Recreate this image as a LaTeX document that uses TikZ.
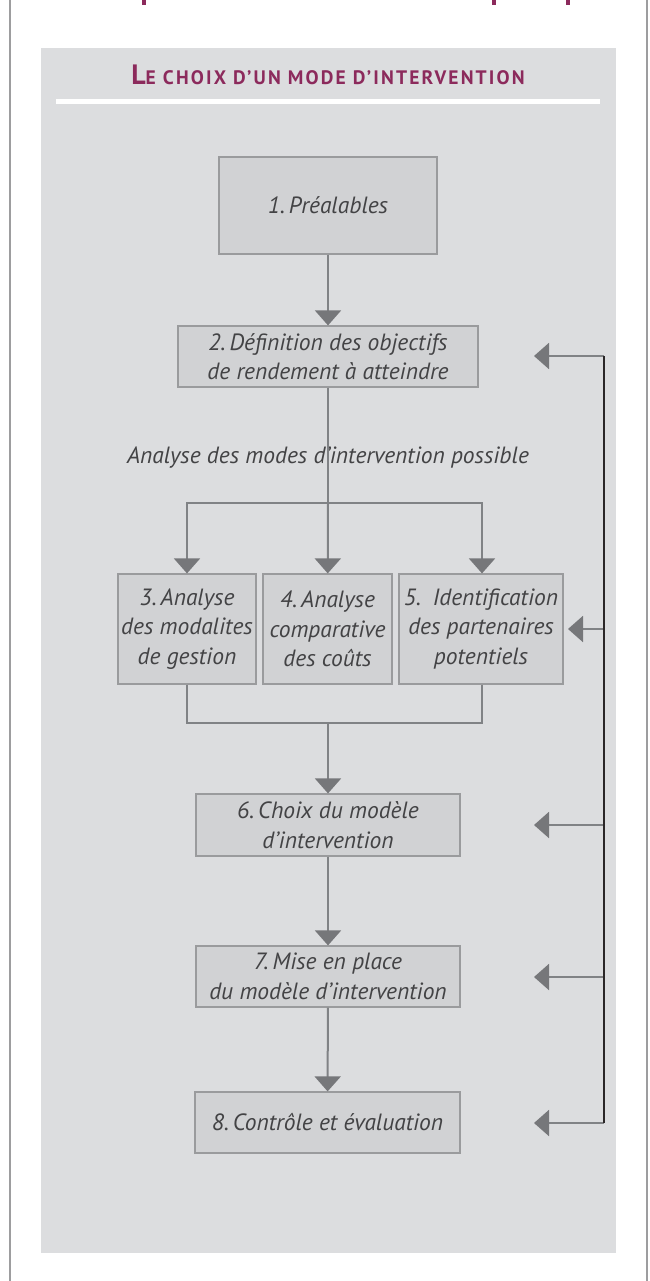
\documentclass[tikz,border=0pt]{standalone}
\usepackage{fontspec}
\setmainfont{PT Sans}
\usetikzlibrary{arrows.meta}
\definecolor{panelfill}{HTML}{DCDDDF}
\definecolor{boxfill}{HTML}{D1D2D4}
\definecolor{boxline}{HTML}{9A9B9D}
\definecolor{conn}{HTML}{808285}
\definecolor{tipc}{HTML}{76777A}
\definecolor{txt}{HTML}{434345}
\definecolor{fbline}{HTML}{2B2728}
\definecolor{titlec}{RGB}{140,42,92}
\definecolor{frame}{HTML}{9D9D9F}
\tikzset{
  stepbox/.style={draw=boxline, fill=boxfill, line width=1.2pt, inner sep=0pt,
    align=center, text=txt, font=\fontsize{23.5}{29.5}\selectfont\itshape},
  link/.style={draw=conn, line width=2pt},
  arr/.style={link, -{Triangle[length=15pt,width=26pt,fill=tipc,color=tipc]}},
  fb/.style={draw=fbline, line width=1.5pt},
}
\begin{document}
\begin{tikzpicture}[x=1pt,y=-1pt]
\useasboundingbox (0,0) rectangle (649,1281);
% outer frame lines
\draw[frame, line width=2pt] (10,0) -- (10,1281);
\draw[frame, line width=2pt] (647,0) -- (647,1281);
% cut-off heading fragments
\fill[titlec] (142,0) rectangle (146,5);
\fill[titlec] (492,0) rectangle (496,5);
\fill[titlec] (566,0) rectangle (570,5);
% panel
\fill[panelfill] (41,48) rectangle (616,1253);
% title
\node[anchor=base, text=titlec, inner sep=0pt] (title) at (328,85)
  {\bfseries\addfontfeature{LetterSpace=11}{\fontsize{28}{28}\selectfont L}{\fontsize{19.5}{19.5}\selectfont E CHOIX D’UN MODE D’INTERVENTION}};
\fill[white] (56,99) rectangle (600,104);

% boxes
\node[stepbox, minimum width=218pt, minimum height=97pt] (b1) at (328,205.5) {1.\,Préalables};
\node[stepbox, minimum width=300pt, minimum height=61pt] (b2) at (328,356.5) {2.\,Définition des objectifs\\de rendement à atteindre};
\node[stepbox, minimum width=138pt, minimum height=110pt] (b3) at (187,629) {3.\,Analyse\\des modalites\\de gestion};
\node[stepbox, minimum width=129pt, minimum height=110pt] (b4) at (327.5,629) {4.\,Analyse\\comparative\\des coûts};
\node[stepbox, minimum width=164pt, minimum height=110pt] (b5) at (481,629) {5.\enspace Identification\\des partenaires\\potentiels};
\node[stepbox, minimum width=264pt, minimum height=62pt] (b6) at (328,825) {6.\,Choix du modèle\\d’intervention};
\node[stepbox, minimum width=264pt, minimum height=61pt] (b7) at (328,976.5) {7.\,Mise en place\\du modèle d’intervention};
\node[stepbox, minimum width=265pt, minimum height=61pt] (b8) at (327.5,1122.5) {8.\,Contrôle et évaluation};

% label
\node[anchor=base, text=txt, inner sep=0pt, font=\fontsize{23.5}{28}\selectfont\itshape] (lbl) at (328,463) {Analyse des modes d’intervention possible};

% connectors
\coordinate (br) at (328,503);
\coordinate (jn) at (328,723);
\draw[arr] (b1) -- (b2);
\draw[link] (b2) -- (br);
\draw[arr] (br) -- (b4);
\draw[arr] (br) -| (b3.north);
\draw[arr] (br) -| ([xshift=1pt]b5.north);
\draw[link] (b3.south) |- (jn);
\draw[link] ([xshift=1pt]b5.south) |- (jn);
\draw[arr] (jn) -- (b6);
\draw[arr] (b6) -- (b7);
\draw[arr] (b7) -- (b8);

% feedback
\coordinate (f2) at (604,356);
\coordinate (f5) at (604,629);
\coordinate (f6) at (604,825);
\coordinate (f7) at (604,977);
\coordinate (f8) at (604,1123);
\coordinate (t2) at (534,356);
\coordinate (t5) at (568,629);
\coordinate (t6) at (534,825);
\coordinate (t7) at (534,977);
\coordinate (t8) at (534,1123);
\draw[arr] (f2) -- (t2);
\draw[arr] (f5) -- (t5);
\draw[arr] (f6) -- (t6);
\draw[arr] (f7) -- (t7);
\draw[arr] (f8) -- (t8);
\draw[fb] (f2) -- (f8);
\end{tikzpicture}
\end{document}
